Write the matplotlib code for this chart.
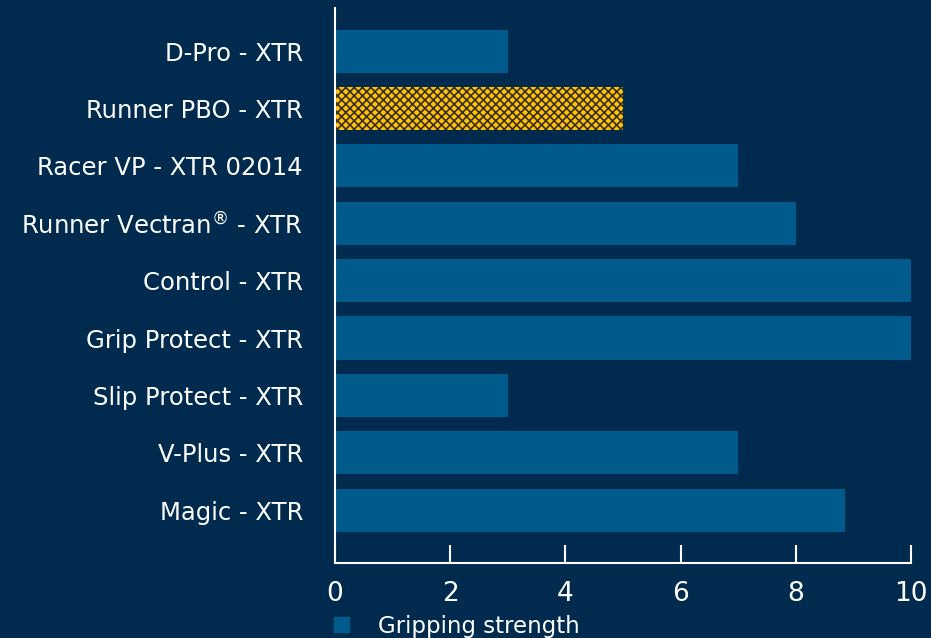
import numpy as np
import matplotlib.pyplot as plt
from matplotlib.patches import Patch

plt.rcParams['hatch.linewidth'] = 1.2

# 数据
products = ['D-Pro - XTR', 'Runner PBO - XTR', 'Racer VP - XTR 02014',
            'Runner Vectran$^{®}$ - XTR', 'Control - XTR', 'Grip Protect - XTR',
            'Slip Protect - XTR', 'V-Plus - XTR', 'Magic - XTR']
strength = [3, 5, 7, 8, 10, 10, 3, 7, 8.85]
highlight = 'Runner PBO - XTR'
xticks = [0, 2, 4, 6, 8, 10]

bg = '#002b4f'
blue = '#005a8c'
yellow = '#ffc20e'

fig = plt.figure(figsize=(9.31, 6.38), dpi=100, facecolor=bg)
ax = fig.add_axes([335/931, 75/638, 576/931, 555/638], facecolor=bg)

y = np.arange(len(products))
bars = ax.barh(y, strength, height=0.75, color=blue)
for b, name in zip(bars, products):
    if name == highlight:
        b.set_facecolor(yellow)
        b.set_edgecolor('#3a2f10')
        b.set_hatch('xxxx')
        b.set_linewidth(0)

ax.set_ylim(len(products) - 1 + 0.92, -0.75)
ax.set_xlim(0, 10)
ax.set_yticks(y)
ax.set_yticklabels(products, color='white', fontsize=17.5)
ax.set_xticks(xticks)
ax.set_xticklabels([str(t) for t in xticks], color='white', fontsize=19)
ax.tick_params(axis='y', length=0, pad=23)
ax.tick_params(axis='x', direction='in', length=13, width=1.5, color='white', pad=13)

for s in ['top', 'right']:
    ax.spines[s].set_visible(False)
for s in ['left', 'bottom']:
    ax.spines[s].set_color('white')
    ax.spines[s].set_linewidth(1.5)

leg = fig.legend(handles=[Patch(color=blue, label='Gripping strength')],
                 loc='lower left', bbox_to_anchor=(313/931, -0.032), frameon=False,
                 fontsize=16.5, handlelength=0.65, handleheight=0.65, handletextpad=1.3)
for t in leg.get_texts():
    t.set_color('white')

fig.savefig('out.png', dpi=100, facecolor=bg)
